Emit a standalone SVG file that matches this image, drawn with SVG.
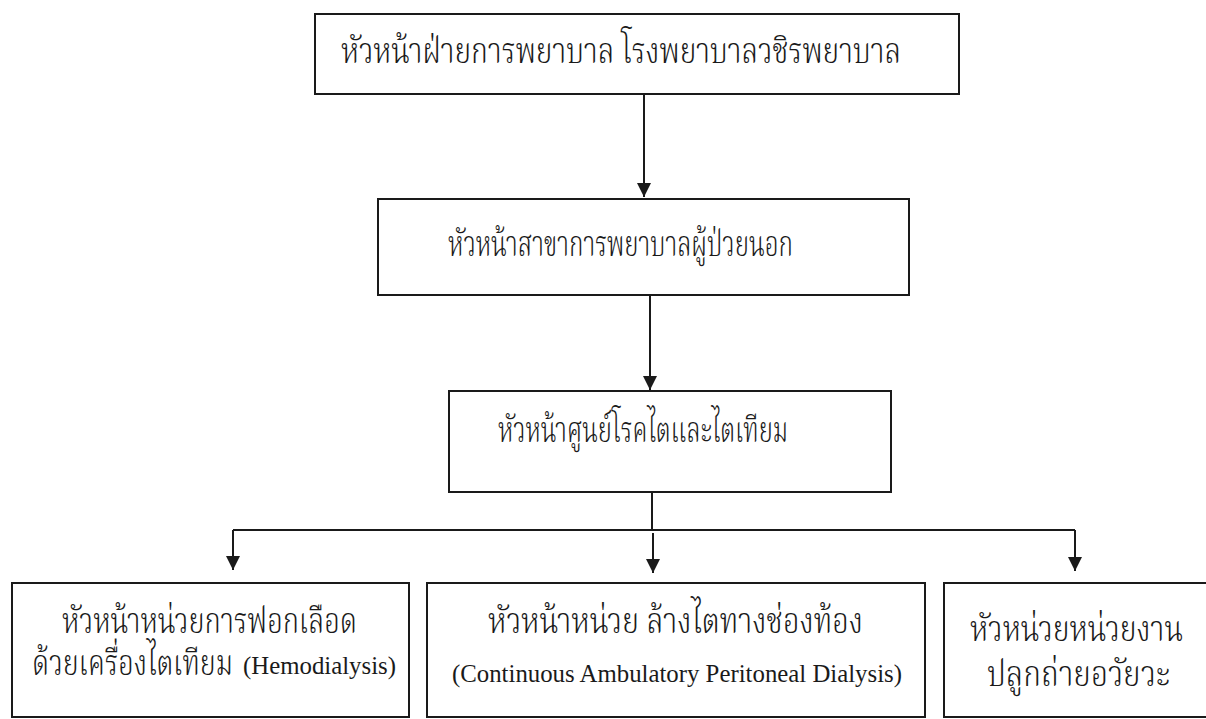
<svg xmlns="http://www.w3.org/2000/svg" width="1206" height="719" viewBox="0 0 1206 719">
<defs>
<style>
.box{fill:#fff;stroke:#1a1a1a;stroke-width:2}
.t{font-family:"Liberation Serif","Noto Serif Thai","Noto Sans Thai","Noto Sans",serif;font-size:35px;font-weight:300;fill:#1a1a1a}
.en{font-family:"Liberation Serif","Times New Roman",serif;font-size:25px;font-weight:400;fill:#1a1a1a}
.ln{fill:none;stroke:#1a1a1a;stroke-width:2}
</style>
<marker id="ah" viewBox="0 0 10 10" refX="10" refY="5" markerWidth="14" markerHeight="14" markerUnits="userSpaceOnUse" orient="auto">
<path d="M0,0 L10,5 L0,10 Z" fill="#1a1a1a"/>
</marker>
</defs>
<rect width="1206" height="719" fill="#fff"/>
<g id="connectors">
<line class="ln" x1="644" y1="94" x2="644" y2="197" marker-end="url(#ah)"/>
<line class="ln" x1="650" y1="296" x2="650" y2="390" marker-end="url(#ah)"/>
<line class="ln" x1="652" y1="493" x2="652" y2="530"/>
<line class="ln" x1="233" y1="530" x2="1075" y2="530"/>
<line class="ln" x1="233" y1="530" x2="233" y2="570" marker-end="url(#ah)"/>
<line class="ln" x1="653" y1="533" x2="653" y2="573" marker-end="url(#ah)"/>
<line class="ln" x1="1075" y1="530" x2="1075" y2="571" marker-end="url(#ah)"/>
</g>
<g id="n1">
<rect class="box" x="315" y="14" width="644" height="80"/>
<text class="t" transform="translate(341 63) scale(0.82 1)" textLength="682.9" lengthAdjust="spacingAndGlyphs">หัวหน้าฝ่ายการพยาบาล โรงพยาบาลวชิรพยาบาล</text>
</g>
<g id="n2">
<rect class="box" x="378" y="199" width="531" height="96"/>
<text class="t" transform="translate(448 256) scale(0.70 1)" textLength="492.9" lengthAdjust="spacingAndGlyphs">หัวหน้าสาขาการพยาบาลผู้ป่วยนอก</text>
</g>
<g id="n3">
<rect class="box" x="449" y="391" width="442" height="101"/>
<text class="t" transform="translate(498 442) scale(0.70 1)" textLength="414.3" lengthAdjust="spacingAndGlyphs">หัวหน้าศูนย์โรคไตและไตเทียม</text>
</g>
<g id="n4">
<rect class="box" x="12" y="583" width="397" height="134"/>
<text class="t" transform="translate(62 633) scale(0.80 1)" textLength="368.8" lengthAdjust="spacingAndGlyphs">หัวหน้าหน่วยการฟอกเลือด</text>
<text class="t" transform="translate(32 675) scale(0.78 1)" textLength="257.7" lengthAdjust="spacingAndGlyphs">ด้วยเครื่องไตเทียม</text>
<text class="en" x="243" y="674" textLength="153" lengthAdjust="spacingAndGlyphs">(Hemodialysis)</text>
</g>
<g id="n5">
<rect class="box" x="427" y="583" width="498" height="134"/>
<text class="t" transform="translate(488 633) scale(0.84 1)" textLength="446.4" lengthAdjust="spacingAndGlyphs">หัวหน้าหน่วย ล้างไตทางช่องท้อง</text>
<text class="en" x="452" y="682" textLength="450" lengthAdjust="spacingAndGlyphs">(Continuous Ambulatory Peritoneal Dialysis)</text>
</g>
<g id="n6">
<rect class="box" x="944" y="583" width="270" height="134"/>
<text class="t" transform="translate(970 641) scale(0.82 1)" textLength="259.8" lengthAdjust="spacingAndGlyphs">หัวหน่วยหน่วยงาน</text>
<text class="t" transform="translate(987 686) scale(0.86 1)" textLength="212.8" lengthAdjust="spacingAndGlyphs">ปลูกถ่ายอวัยวะ</text>
</g>
</svg>
